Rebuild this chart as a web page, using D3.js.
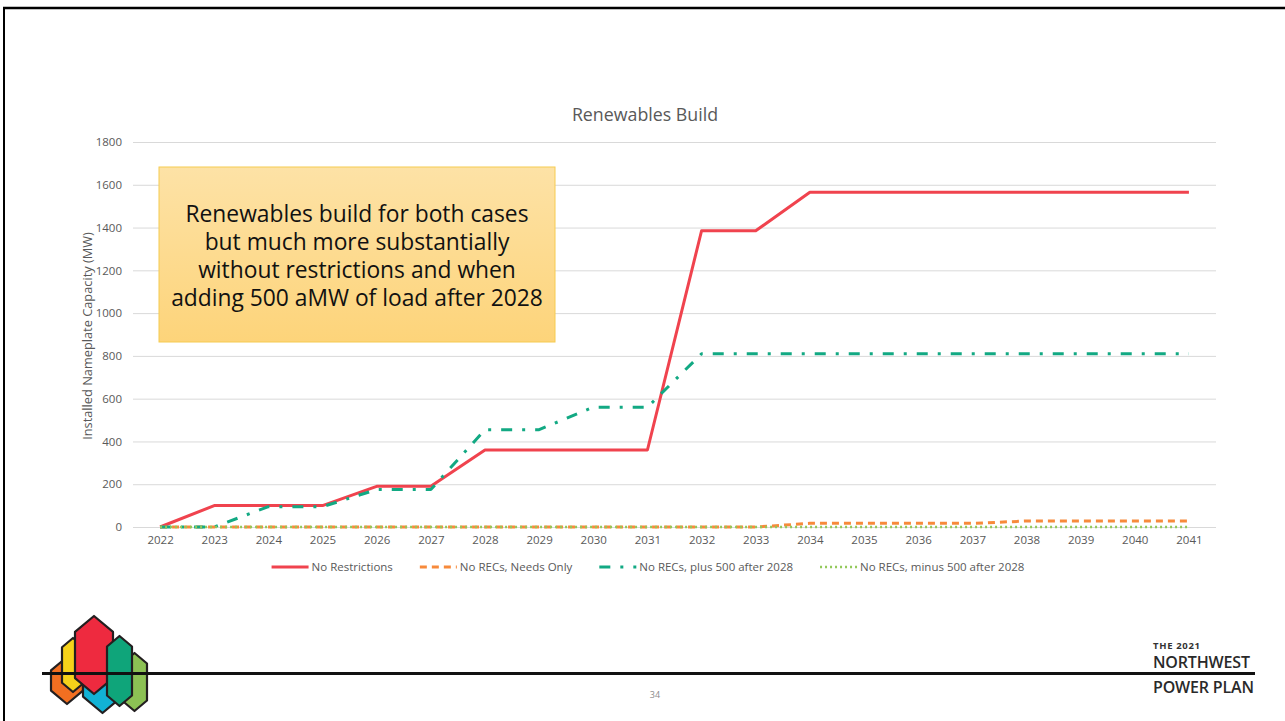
<!DOCTYPE html>
<html>
<head>
<meta charset="utf-8">
<script src="https://cdn.jsdelivr.net/npm/d3@7"></script>
<style>
  html, body { margin: 0; padding: 0; background: #fff; }
  svg { display: block; font-family: "Open Sans", "Noto Sans", sans-serif; }
</style>
</head>
<body>
<svg id="slide" width="1285" height="721"></svg>
<script>
// ---- data ----
const years = ['2022','2023','2024','2025','2026','2027','2028','2029','2030','2031',
               '2032','2033','2034','2035','2036','2037','2038','2039','2040','2041'];
const noRestrictions = [0,100,100,100,190,190,360,360,360,360,1385,1385,1565,1565,1565,1565,1565,1565,1565,1565];
const needsOnly      = [0,0,0,0,0,0,0,0,0,0,0,0,17,17,17,17,28,28,28,28];
const plus500        = [0,0,95,95,175,175,455,455,560,560,810,810,810,810,810,810,810,810,810,810];
const minus500       = [0,0,0,0,0,0,0,0,0,0,0,0,0,0,0,0,0,0,0,0];
const yTicks = [0,200,400,600,800,1000,1200,1400,1600,1800];

const seriesNames = ['No Restrictions', 'No RECs, Needs Only', 'No RECs, plus 500 after 2028', 'No RECs, minus 500 after 2028'];
const seriesValues = [noRestrictions, needsOnly, plus500, minus500];
const seriesStyle = [
  { color: '#F0434E', width: 3,   dash: null },
  { color: '#F78A3B', width: 3,   dash: '7,5' },
  { color: '#12A983', width: 3,   dash: '11,10,3,10' },
  { color: '#92C95A', width: 2.5, dash: '2,3' }
];

const note = ['Renewables build for both cases', 'but much more substantially',
              'without restrictions and when', 'adding 500 aMW of load after 2028'];

const svg = d3.select('#slide');

// slide frame
svg.append('line').attr('x1', 3).attr('x2', 1285).attr('y1', 8).attr('y2', 8)
   .attr('stroke', '#000').attr('stroke-width', 2.5);
svg.append('line').attr('x1', 4).attr('x2', 4).attr('y1', 7).attr('y2', 721)
   .attr('stroke', '#000').attr('stroke-width', 2);

// scales
const plotL = 133, plotR = 1216, plotT = 142, plotB = 527;
const x = d3.scalePoint().domain(years).range([plotL, plotR]).padding(0.5);
const y = d3.scaleLinear().domain([0, 1800]).range([plotB, plotT]);

// title
svg.append('text').attr('x', 645).attr('y', 121).attr('text-anchor', 'middle')
   .attr('font-size', 17.8).attr('fill', '#595959').text('Renewables Build');

// grid + y labels
const gy = svg.append('g').attr('transform', `translate(${plotL},0)`)
  .call(d3.axisLeft(y).tickValues(yTicks).tickFormat(d3.format('d'))
    .tickSize(-(plotR - plotL)).tickPadding(11));
gy.select('.domain').remove();
gy.selectAll('.tick line').attr('stroke', '#D9D9D9').attr('stroke-width', 1);
gy.selectAll('.tick text').attr('fill', '#595959').attr('font-size', 11.5)
  .attr('font-family', '"Open Sans", sans-serif');

// x labels
const gx = svg.append('g').attr('transform', `translate(0,${plotB})`)
  .call(d3.axisBottom(x).tickSize(0).tickPadding(9));
gx.select('.domain').remove();
gx.selectAll('.tick text').attr('fill', '#595959').attr('font-size', 11.5)
  .attr('font-family', '"Open Sans", sans-serif');

// y title, sized to the reference span
const yt = svg.append('text').attr('transform', 'translate(92,336) rotate(-90)')
   .attr('text-anchor', 'middle').attr('font-size', 11).attr('fill', '#595959')
   .text('Installed Nameplate Capacity (MW)');
yt.attr('font-size', 11 * 208 / yt.node().getComputedTextLength());

// annotation box
const defs = svg.append('defs');
const grad = defs.append('linearGradient').attr('id', 'noteFill')
  .attr('x1', 0).attr('y1', 0).attr('x2', 0).attr('y2', 1);
grad.append('stop').attr('offset', '0%').attr('stop-color', '#FDE2A6');
grad.append('stop').attr('offset', '100%').attr('stop-color', '#FDD47A');
svg.append('rect').attr('x', 159).attr('y', 167).attr('width', 396).attr('height', 175)
   .attr('fill', 'url(#noteFill)').attr('stroke', '#F6CB50').attr('stroke-width', 1);
svg.append('text').attr('x', 357).attr('y', 222).attr('text-anchor', 'middle')
   .attr('font-size', 22.8).attr('fill', '#111')
   .selectAll('tspan').data(note).join('tspan')
   .attr('x', 357).attr('dy', (d, i) => i === 0 ? 0 : 28).text(d => d);

// series lines
const line = d3.line().x((d, i) => x(years[i])).y(d => y(d));
svg.append('g').selectAll('path').data(seriesValues).join('path')
  .attr('d', d => line(d))
  .attr('fill', 'none')
  .attr('stroke', (d, i) => seriesStyle[i].color)
  .attr('stroke-width', (d, i) => seriesStyle[i].width)
  .attr('stroke-dasharray', (d, i) => seriesStyle[i].dash)
  .attr('stroke-linejoin', 'round');

// legend
const lg = svg.append('g');
const items = [];
seriesNames.forEach((name, i) => {
  const g = lg.append('g');
  g.append('line').attr('x1', 0).attr('x2', 37).attr('y1', 0).attr('y2', 0)
    .attr('stroke', seriesStyle[i].color).attr('stroke-width', seriesStyle[i].width)
    .attr('stroke-dasharray', seriesStyle[i].dash);
  const t = g.append('text').attr('x', 40).attr('y', 4).attr('font-size', 11.5)
    .attr('fill', '#595959').text(name);
  const w = 40 + t.node().getComputedTextLength();
  items.push({ g, w });
});
const gap = 27;
const total = d3.sum(items, d => d.w) + gap * (items.length - 1);
let cursor = 648 - total / 2;
items.forEach(it => { it.g.attr('transform', `translate(${cursor},567)`); cursor += it.w + gap; });

// footer rule
svg.append('line').attr('x1', 42).attr('x2', 1255).attr('y1', 673.5).attr('y2', 673.5)
   .attr('stroke', '#111').attr('stroke-width', 3);

// logo (hexagon towers)
const logo = [
  { l: 51,  r: 83,  t: 657, b: 704, c: '#F26F21' },
  { l: 62,  r: 84,  t: 638, b: 692, c: '#F6D21A' },
  { l: 83,  r: 122, t: 645, b: 713, c: '#12B2D5' },
  { l: 75,  r: 113, t: 616, b: 694, c: '#EE2A3F' },
  { l: 122, r: 147, t: 653, b: 711, c: '#8CC154' },
  { l: 107, r: 132, t: 636, b: 706, c: '#0FA57A' }
];
const hex = d => {
  const cx = (d.l + d.r) / 2, h = (d.r - d.l) * 0.42;
  return [[cx, d.t], [d.r, d.t + h], [d.r, d.b - h], [cx, d.b], [d.l, d.b - h], [d.l, d.t + h]];
};
svg.append('g').selectAll('polygon').data(logo).join('polygon')
  .attr('points', d => hex(d).map(p => p.join(',')).join(' '))
  .attr('fill', d => d.c).attr('stroke', '#231F20').attr('stroke-width', 2.2)
  .attr('stroke-linejoin', 'round');
svg.append('line').attr('x1', 42).attr('x2', 160).attr('y1', 673.5).attr('y2', 673.5)
   .attr('stroke', '#111').attr('stroke-width', 3);

// brand text
svg.append('text').attr('x', 1153).attr('y', 649).attr('font-size', 9.5).attr('font-weight', 'bold')
   .attr('fill', '#333').attr('textLength', 47).text('THE 2021');
svg.append('text').attr('x', 1153).attr('y', 668).attr('font-size', 16).attr('font-weight', 600)
   .attr('fill', '#2a2a2a').attr('textLength', 97).text('NORTHWEST');
svg.append('text').attr('x', 1153).attr('y', 693).attr('font-size', 16).attr('font-weight', 600)
   .attr('fill', '#2a2a2a').attr('textLength', 101).text('POWER PLAN');

// page number
svg.append('text').attr('x', 655).attr('y', 698).attr('text-anchor', 'middle')
   .attr('font-size', 9).attr('fill', '#8c8c8c').text('34');
</script>
</body>
</html>
